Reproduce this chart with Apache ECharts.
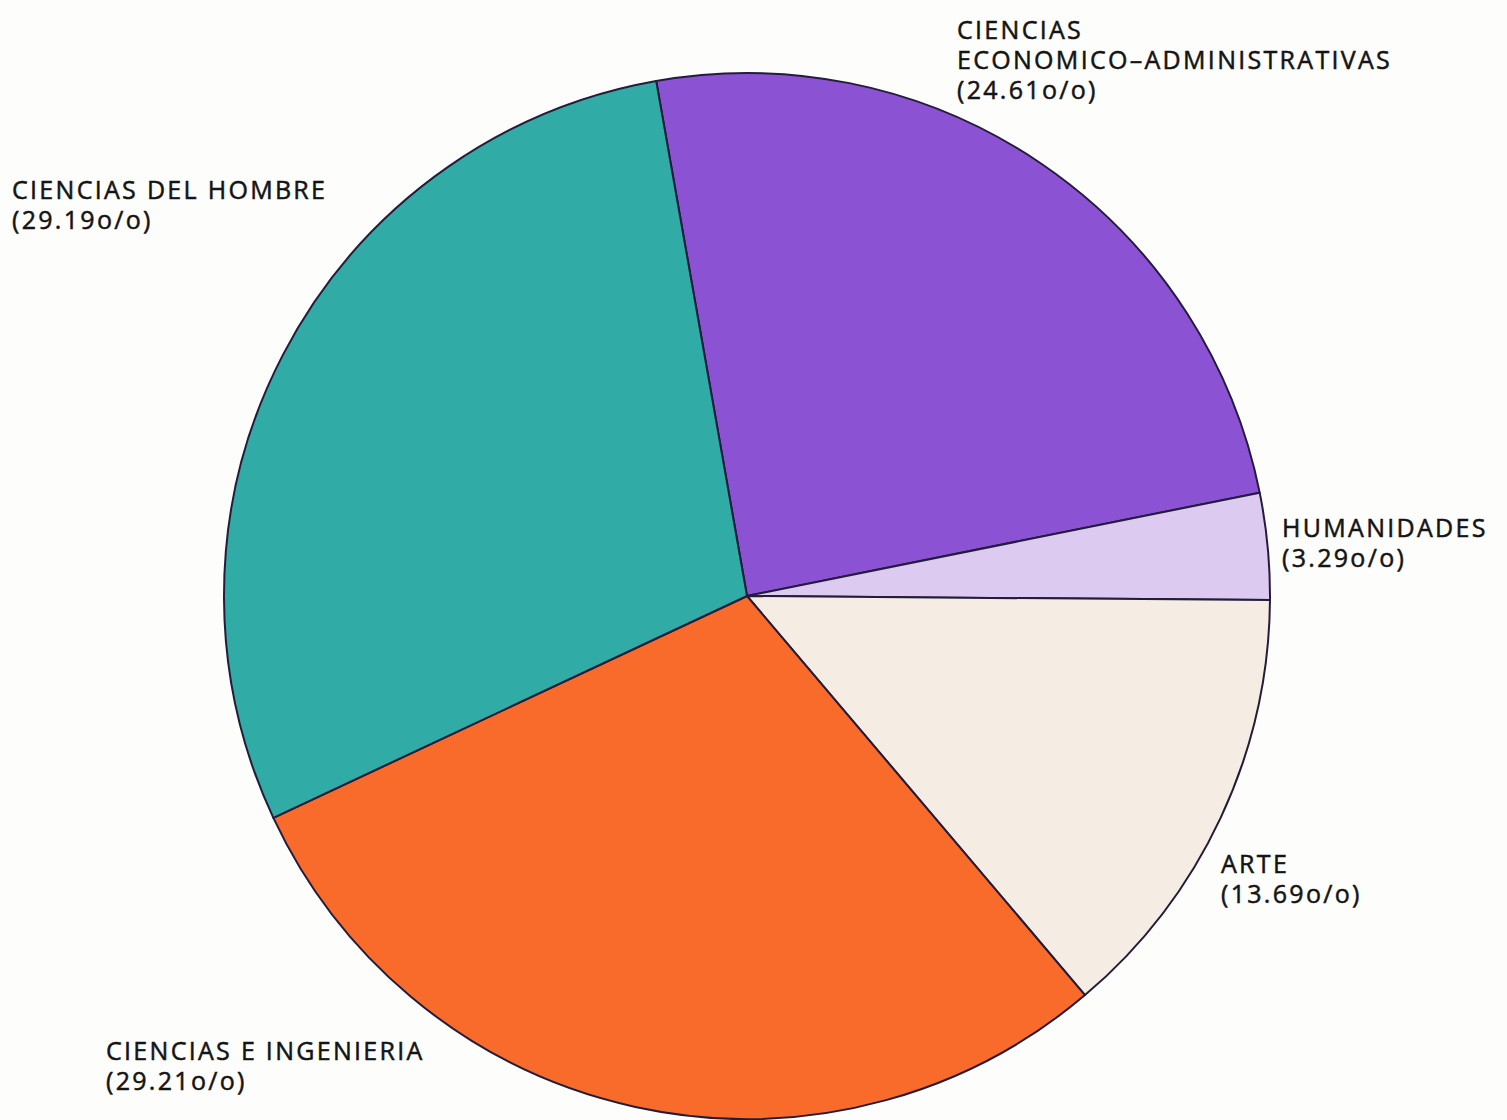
<!DOCTYPE html>
<html>
<head>
<meta charset="utf-8">
<script src="https://cdn.jsdelivr.net/npm/echarts@6/dist/echarts.min.js"></script>
<style>
  html, body { margin: 0; padding: 0; background: #fdfdfb; }
  #chart { width: 1507px; height: 1120px; }
  /* the printed labels are widely tracked */
  #chart svg text { letter-spacing: 2.3px; }
</style>
</head>
<body>
<div id="chart"></div>
<script>
// areas, clockwise from the top
const categories = [
  "CIENCIAS\nECONOMICO\u2013ADMINISTRATIVAS",
  "HUMANIDADES",
  "ARTE",
  "CIENCIAS E INGENIERIA",
  "CIENCIAS DEL HOMBRE",
];
const shares = [24.61, 3.29, 13.69, 29.21, 29.19];
const colors = ["#8c52d4", "#dccaf1", "#f5ede3", "#f96b2b", "#31aba6"];

// where each label sits (top-left corner of the text block)
const labelPos = [
  [957, 14],
  [1282, 512],
  [1221, 848],
  [106, 1035],
  [12, 174],
];

const fmtPct = (v) => `(${v.toFixed(2)}o/o)`;

const chart = echarts.init(document.getElementById("chart"), null, { renderer: "svg" });

chart.setOption({
  backgroundColor: "#fdfdfb",
  animation: false,
  series: [
    {
      type: "pie",
      center: [747, 596],
      radius: 523,
      startAngle: 100,
      clockwise: true,
      avoidLabelOverlap: false,
      itemStyle: { borderColor: "#231c3a", borderWidth: 2 },
      label: {
        show: true,
        position: "outside",
        formatter: (p) => `${p.name}\n${fmtPct(p.value)}`,
        fontFamily: "Open Sans",
        fontSize: 25,
        lineHeight: 30,
        color: "#141414",
        textBorderColor: "#141414",
        textBorderWidth: 0.5,
        align: "left",
      },
      labelLine: { show: false },
      labelLayout: (p) => ({
        x: labelPos[p.dataIndex][0],
        y: labelPos[p.dataIndex][1],
        align: "left",
        verticalAlign: "top",
      }),
      emphasis: { disabled: true },
      data: categories.map((name, i) => ({
        name,
        value: shares[i],
        itemStyle: { color: colors[i] },
      })),
    },
  ],
});
</script>
</body>
</html>
